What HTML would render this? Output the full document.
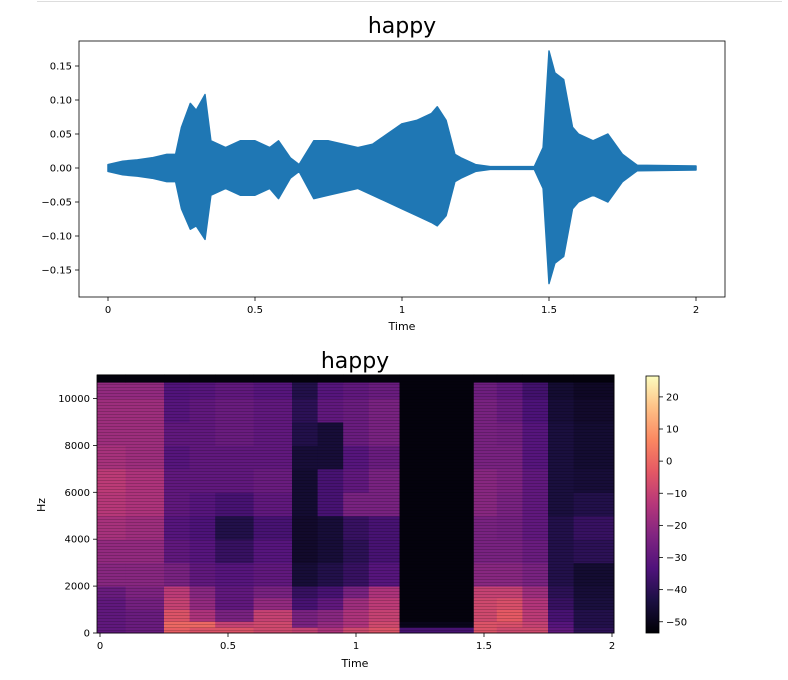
<!DOCTYPE html>
<html><head><meta charset="utf-8"><style>
body{margin:0;background:#fff;width:788px;height:676px;overflow:hidden;font-family:"DejaVu Sans","Liberation Sans",sans-serif}
svg text{font-family:"DejaVu Sans","Liberation Sans",sans-serif}
</style></head><body>
<svg id="s" width="788" height="676" xmlns="http://www.w3.org/2000/svg">
<line x1="37" y1="1.5" x2="782" y2="1.5" stroke="#ddd"/>
<text x="402" y="33" font-size="22" text-anchor="middle">happy</text>
<text x="355" y="368" font-size="22" text-anchor="middle">happy</text>
<text x="402" y="330" font-size="11" text-anchor="middle">Time</text>
<text x="355" y="667" font-size="11" text-anchor="middle">Time</text>
<text x="45" y="505" font-size="11" text-anchor="middle" transform="rotate(-90 45 505)">Hz</text>
<g id="g"></g>
</svg>
<script>
const waveTimes=[0,0.05,0.1,0.15,0.2,0.23,0.25,0.28,0.3,0.33,0.35,0.4,0.45,0.5,0.55,0.58,0.62,0.65,0.7,0.75,0.8,0.85,0.9,0.95,1.0,1.05,1.1,1.12,1.15,1.18,1.2,1.25,1.3,1.45,1.48,1.5,1.52,1.55,1.58,1.6,1.65,1.7,1.75,1.8,2.0];
const waveUpper=[0.005,0.01,0.012,0.015,0.02,0.02,0.06,0.095,0.085,0.108,0.04,0.03,0.04,0.04,0.03,0.04,0.015,0.005,0.04,0.04,0.035,0.03,0.035,0.05,0.065,0.07,0.08,0.09,0.07,0.02,0.015,0.005,0.002,0.002,0.03,0.172,0.14,0.13,0.06,0.05,0.04,0.05,0.02,0.004,0.003];
const waveLower=[-0.005,-0.01,-0.012,-0.015,-0.02,-0.02,-0.06,-0.09,-0.085,-0.105,-0.04,-0.03,-0.04,-0.04,-0.03,-0.045,-0.015,-0.005,-0.045,-0.04,-0.035,-0.03,-0.04,-0.05,-0.06,-0.07,-0.08,-0.085,-0.07,-0.02,-0.015,-0.005,-0.002,-0.002,-0.03,-0.17,-0.14,-0.13,-0.06,-0.05,-0.04,-0.05,-0.02,-0.004,-0.003];
const waveXTicks=[0,0.5,1,1.5,2];
const waveXLabels=["0","0.5","1","1.5","2"];
const waveYTicks=[0.15,0.10,0.05,0.00,-0.05,-0.10,-0.15];
const waveYLabels=["0.15","0.10","0.05","0.00","−0.05","−0.10","−0.15"];
const specTimeEdges=[-0.012,0.1,0.25,0.35,0.45,0.6,0.75,0.85,0.95,1.05,1.17,1.46,1.55,1.65,1.75,1.85,2.008];
const specFreqEdges=[0,250,500,1000,1500,2000,3000,4000,5000,6000,7000,8000,9000,10000,10700,11025];
// rows: each row = one frequency band (low to high), values per time column (dB)
const specDb=[
[-30,-28,-2,-5,-5,-8,-10,-15,-8,-5,-35,-5,-8,-8,-30,-40],
[-30,-28,0,0,-10,-8,-25,-20,-15,-8,-50,-5,-6,-10,-32,-42],
[-30,-28,-5,-15,-25,-10,-25,-22,-15,-10,-52,-8,-3,-12,-35,-42],
[-30,-26,-10,-20,-30,-20,-35,-30,-18,-12,-52,-8,-6,-14,-38,-44],
[-28,-24,-12,-22,-30,-25,-38,-35,-25,-15,-52,-10,-10,-18,-40,-45],
[-22,-22,-25,-30,-32,-30,-45,-42,-38,-32,-52,-22,-22,-25,-42,-46],
[-20,-20,-30,-32,-38,-32,-47,-45,-40,-35,-52,-25,-25,-28,-42,-40],
[-16,-18,-32,-34,-42,-35,-47,-45,-38,-35,-52,-25,-26,-30,-42,-38],
[-13,-15,-30,-32,-35,-30,-46,-35,-25,-25,-52,-22,-25,-30,-44,-42],
[-12,-15,-30,-30,-30,-28,-46,-35,-30,-25,-52,-22,-24,-30,-44,-45],
[-16,-18,-32,-30,-30,-30,-45,-45,-32,-28,-52,-25,-25,-32,-44,-46],
[-18,-18,-30,-30,-28,-30,-42,-45,-28,-25,-52,-25,-26,-32,-44,-46],
[-18,-18,-32,-30,-28,-30,-40,-30,-28,-25,-52,-25,-28,-34,-45,-47],
[-20,-20,-33,-32,-30,-32,-42,-32,-30,-28,-52,-27,-30,-36,-46,-48],
[-52,-52,-52,-52,-52,-52,-52,-52,-52,-52,-52,-52,-52,-52,-52,-52]];
const specXTicks=[0,0.5,1,1.5,2];
const specXLabels=["0","0.5","1","1.5","2"];
const specYTicks=[0,2000,4000,6000,8000,10000];
const specYLabels=["0","2000","4000","6000","8000","10000"];
const cbTicks=[20,10,0,-10,-20,-30,-40,-50];
const cbLabels=["20","10","0","−10","−20","−30","−40","−50"];

const NS="http://www.w3.org/2000/svg",g=document.getElementById('g');
function mk(t,a,p){const e=document.createElementNS(NS,t);for(const k in a)e.setAttribute(k,a[k]);(p||g).appendChild(e);return e;}
const wx=t=>108+t*294, wy=a=>168-a*680;
const sx=t=>100+t*256, sy=f=>633-f*0.02345;
const dbMin=-53.5,dbMax=26.5, cy=d=>633-(d-dbMin)/(dbMax-dbMin)*257;
const stops=[[0,[0,0,4]],[0.13,[28,16,68]],[0.25,[79,18,123]],[0.38,[129,37,129]],[0.5,[181,54,122]],[0.63,[229,89,100]],[0.75,[251,135,97]],[0.88,[254,194,135]],[1,[252,253,191]]];
function magma(d){let t=Math.max(0,Math.min(1,(d-dbMin)/(dbMax-dbMin)));for(let i=1;i<stops.length;i++){if(t<=stops[i][0]){const[a,c0]=stops[i-1],[b,c1]=stops[i];const u=(t-a)/(b-a);return 'rgb('+c0.map((v,k)=>Math.round(v+(c1[k]-v)*u)).join(',')+')';}}return 'rgb(252,253,191)';}

// waveform
let pts=waveTimes.map((t,i)=>wx(t)+','+wy(waveUpper[i]));
for(let i=waveTimes.length-1;i>=0;i--)pts.push(wx(waveTimes[i])+','+wy(waveLower[i]));
const wave=mk('polygon',{points:pts.join(' '),fill:'#1f77b4',stroke:'#1f77b4','stroke-width':1.5,'stroke-linejoin':'round'});


const wbox=mk('rect',{x:79,y:41,width:646,height:256,fill:'none',stroke:'#000','stroke-width':0.8});


waveXTicks.forEach((t,i)=>{mk('line',{x1:wx(t),x2:wx(t),y1:297,y2:301,stroke:'#000','stroke-width':0.8});const l=mk('text',{x:wx(t),y:313,'font-size':10,'text-anchor':'middle'});l.textContent=waveXLabels[i];

});
waveYTicks.forEach((a,i)=>{mk('line',{x1:75,x2:79,y1:wy(a),y2:wy(a),stroke:'#000','stroke-width':0.8});const l=mk('text',{x:72,y:wy(a)+3.5,'font-size':10,'text-anchor':'end'});l.textContent=waveYLabels[i];

});

// spectrogram
specDb.forEach((row,r)=>row.forEach((d,c)=>{
 const x0=Math.max(97,sx(specTimeEdges[c])),x1=Math.min(614,sx(specTimeEdges[c+1]));
 const y0=sy(specFreqEdges[r+1]),y1=sy(specFreqEdges[r]);
 const cell=mk('rect',{x:x0,y:y0,width:x1-x0+0.5,height:y1-y0+0.5,fill:magma(d)});
 
 
}));
const defs=mk('defs',{});
const pat=mk('pattern',{id:'str',width:6,height:3,patternUnits:'userSpaceOnUse'},defs);
mk('rect',{x:0,y:0,width:6,height:1,fill:'rgba(0,0,0,0.18)'},pat);
const tex=mk('rect',{x:97,y:375,width:517,height:258,fill:'url(#str)'});


const sbox=mk('rect',{x:97,y:375,width:517,height:258,fill:'none',stroke:'#000','stroke-width':0.8});


specXTicks.forEach((t,i)=>{mk('line',{x1:sx(t),x2:sx(t),y1:633,y2:637,stroke:'#000','stroke-width':0.8});const l=mk('text',{x:sx(t),y:649,'font-size':10,'text-anchor':'middle'});l.textContent=specXLabels[i];

});
specYTicks.forEach((f,i)=>{mk('line',{x1:93,x2:97,y1:sy(f),y2:sy(f),stroke:'#000','stroke-width':0.8});const l=mk('text',{x:90,y:sy(f)+3.5,'font-size':10,'text-anchor':'end'});l.textContent=specYLabels[i];

});

// colorbar
const lg=mk('linearGradient',{id:'cb',x1:0,y1:1,x2:0,y2:0},defs);
stops.forEach(s=>mk('stop',{offset:s[0],'stop-color':'rgb('+s[1].join(',')+')'},lg));
const cb=mk('rect',{x:646,y:376,width:13,height:257,fill:'url(#cb)',stroke:'#000','stroke-width':0.8});


cbTicks.forEach((d,i)=>{mk('line',{x1:659,x2:663,y1:cy(d),y2:cy(d),stroke:'#000','stroke-width':0.8});const l=mk('text',{x:666,y:cy(d)+3.5,'font-size':10});l.textContent=cbLabels[i];

});
</script>
</body></html>
